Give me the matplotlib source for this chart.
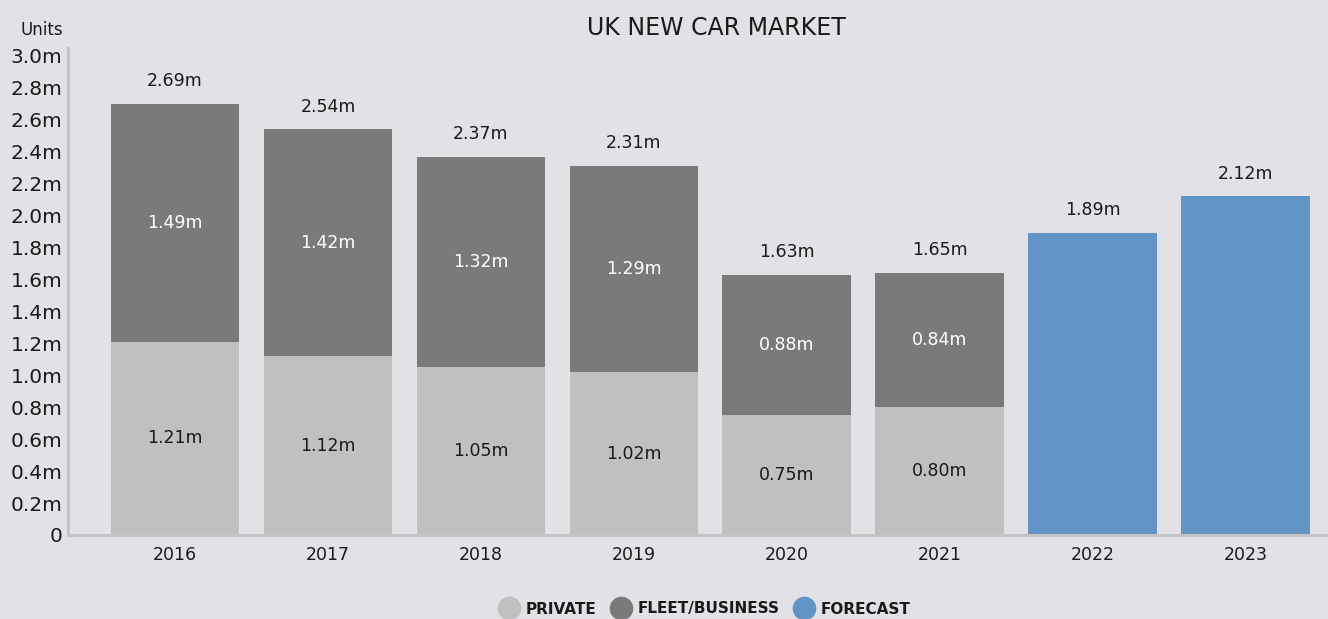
import numpy as np
import matplotlib
matplotlib.use("Agg")
import matplotlib.pyplot as plt
from matplotlib.lines import Line2D

plt.rcParams['font.family'] = ['DejaVu Sans']

years = ['2016', '2017', '2018', '2019', '2020', '2021', '2022', '2023']
private = [1.21, 1.12, 1.05, 1.02, 0.75, 0.80]
fleet = [1.49, 1.42, 1.32, 1.29, 0.88, 0.84]
totals = [2.69, 2.54, 2.37, 2.31, 1.63, 1.65]
forecast = [1.89, 2.12]

bg = '#e2e1e6'
c_private = '#c0c0c0'
c_fleet = '#7a7a7a'
c_forecast = '#6294c6'
txt = '#1a1a1a'

fig = plt.figure(figsize=(13.28, 6.19), dpi=100, facecolor=bg)
ax = fig.add_axes([68 / 1328, 1 - 535 / 619, 1 - 68 / 1328, (535 - 48) / 619])
ax.set_facecolor(bg)

n_hist = len(private)
x_hist = np.arange(n_hist)
x_fc = np.arange(n_hist, n_hist + len(forecast))
w = 0.84

ax.bar(x_hist, private, width=w, color=c_private, zorder=2)
ax.bar(x_hist, fleet, width=w, bottom=private, color=c_fleet, zorder=2)
ax.bar(x_fc, forecast, width=w, color=c_forecast, zorder=2)

# segment labels
for i in range(n_hist):
    ax.text(x_hist[i], private[i] / 2, f'{private[i]:.2f}m', ha='center', va='center',
            fontsize=12.5, color=txt, zorder=3)
    ax.text(x_hist[i], private[i] + fleet[i] / 2, f'{fleet[i]:.2f}m', ha='center',
            va='center', fontsize=12.5, color='white', zorder=3)
    ax.annotate(f'{totals[i]:.2f}m', (x_hist[i], private[i] + fleet[i]),
                xytext=(0, 10), textcoords='offset points', ha='center', va='bottom',
                fontsize=12.5, color=txt)
for i in range(len(forecast)):
    ax.annotate(f'{forecast[i]:.2f}m', (x_fc[i], forecast[i]),
                xytext=(0, 10), textcoords='offset points', ha='center', va='bottom',
                fontsize=12.5, color=txt)

ax.set_xlim(-0.70, 7.54)
ax.set_ylim(0, 3.05)
ax.set_xticks(range(len(years)))
ax.set_xticklabels(years, fontsize=12.5, color=txt)
yt = np.arange(0, 3.01, 0.2)
ax.set_yticks(yt)
ax.set_yticklabels(['0'] + [f'{v:.1f}m' for v in yt[1:]], fontsize=14.5, color=txt)
ax.tick_params(axis='both', length=0)
ax.tick_params(axis='x', pad=8)
ax.tick_params(axis='y', pad=4)

for s in ['top', 'right']:
    ax.spines[s].set_visible(False)
for s in ['left', 'bottom']:
    ax.spines[s].set_color('#c4c4c4')
    ax.spines[s].set_linewidth(2.2)

fig.text(63 / 1328, 1 - 30 / 619, 'Units', ha='right', va='center', fontsize=12, color=txt)
fig.text(716 / 1328, 1 - 28 / 619, 'UK NEW CAR MARKET', ha='center', va='center',
         fontsize=17, color=txt)

handles = [
    Line2D([], [], marker='o', linestyle='', markersize=16, color=c_private),
    Line2D([], [], marker='o', linestyle='', markersize=16, color=c_fleet),
    Line2D([], [], marker='o', linestyle='', markersize=16, color=c_forecast),
]
leg = fig.legend(handles, ['PRIVATE', 'FLEET/BUSINESS', 'FORECAST'], loc='center',
                 bbox_to_anchor=(705 / 1328, 1 - 609 / 619), ncol=3, frameon=False,
                 prop={'weight': 'bold', 'size': 11}, handletextpad=0.5,
                 columnspacing=1.0, handlelength=1.2)
for t in leg.get_texts():
    t.set_color(txt)

fig.savefig('out.png', dpi=100, facecolor=bg)
